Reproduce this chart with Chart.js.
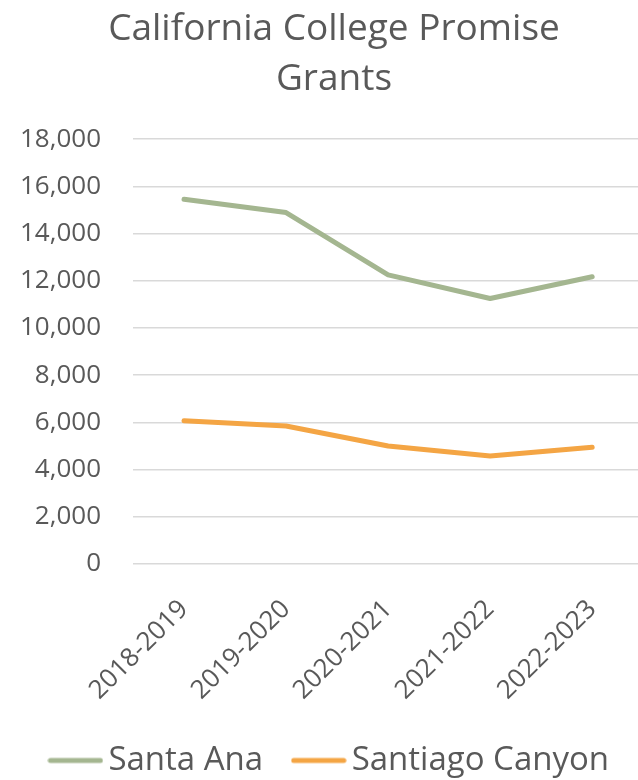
<!DOCTYPE html>
<html><head><meta charset="utf-8">
<script src="https://cdn.jsdelivr.net/npm/chart.js@4.4.1/dist/chart.umd.min.js"></script>
<style>html,body{margin:0;padding:0;overflow:hidden;background:#fff;width:638px;height:780px}</style>
</head><body>
<canvas id="c" width="668" height="787" style="display:block;width:668px;height:787px"></canvas>
<script>
const categories = ['2018-2019', '2019-2020', '2020-2021', '2021-2022', '2022-2023'];
const santaAna = [15450, 14890, 12250, 11250, 12170];
const santiagoCanyon = [6070, 5850, 5000, 4580, 4950];
const yMin = 0, yMax = 18000, yStep = 2000;
const titleLines = ['California College Promise', 'Grants'];

const FONT = "'Open Sans', sans-serif";
const TXT = '#595959';
const GREEN = '#A4B690', ORANGE = '#F4A544';
const toPoints = arr => arr.map((v, i) => ({x: i, y: v}));

function legendLine(color) {
  const c = document.createElement('canvas');
  c.width = 56; c.height = 8;
  const g = c.getContext('2d');
  g.strokeStyle = color; g.lineWidth = 5; g.lineCap = 'round';
  g.beginPath(); g.moveTo(3, 4); g.lineTo(53, 4); g.stroke();
  return c;
}

const CANVAS_H = 787;
const PLOT_BOTTOM = 564;

new Chart(document.getElementById('c'), {
  type: 'line',
  data: {
    datasets: [
      {label: 'Santa Ana', data: toPoints(santaAna), borderColor: GREEN, backgroundColor: GREEN,
       borderWidth: 5, borderCapStyle: 'round', borderJoinStyle: 'round', pointRadius: 0, tension: 0,
       pointStyle: legendLine(GREEN)},
      {label: 'Santiago Canyon', data: toPoints(santiagoCanyon), borderColor: ORANGE, backgroundColor: ORANGE,
       borderWidth: 5, borderCapStyle: 'round', borderJoinStyle: 'round', pointRadius: 0, tension: 0,
       pointStyle: legendLine(ORANGE)}
    ]
  },
  options: {
    responsive: false,
    animation: false,
    devicePixelRatio: 1,
    layout: {padding: {left: 0, right: 0, top: 0, bottom: 0}},
    plugins: {
      tooltip: {enabled: false},
      title: {display: true, text: titleLines, color: TXT,
        font: {family: FONT, size: 37, weight: 'normal', lineHeight: 1.34},
        padding: {top: 5, bottom: 35}},
      legend: {position: 'bottom',
        labels: {usePointStyle: true, pointStyleWidth: 33, color: TXT,
          font: {family: FONT, size: 33}, padding: 39}}
    },
    scales: {
      x: {type: 'linear', min: -0.5, max: 4.743,
        grid: {display: false}, border: {display: false},
        afterFit: s => { s.height = CANVAS_H - s.chart.legend.height - PLOT_BOTTOM; },
        ticks: {stepSize: 1, includeBounds: false, autoSkip: false, minRotation: 45, maxRotation: 45,
          color: TXT, font: {family: FONT, size: 26}, padding: 22,
          callback: v => categories[v] ?? ''}},
      y: {min: yMin, max: yMax,
        afterFit: s => { s.width = 133; },
        grid: {color: '#D9D9D9', lineWidth: 1.5, drawTicks: false}, border: {display: false},
        ticks: {stepSize: yStep, padding: 32, color: TXT, font: {family: FONT, size: 26},
          callback: v => v.toLocaleString('en-US')}}
    }
  }
});
</script>
</body></html>
